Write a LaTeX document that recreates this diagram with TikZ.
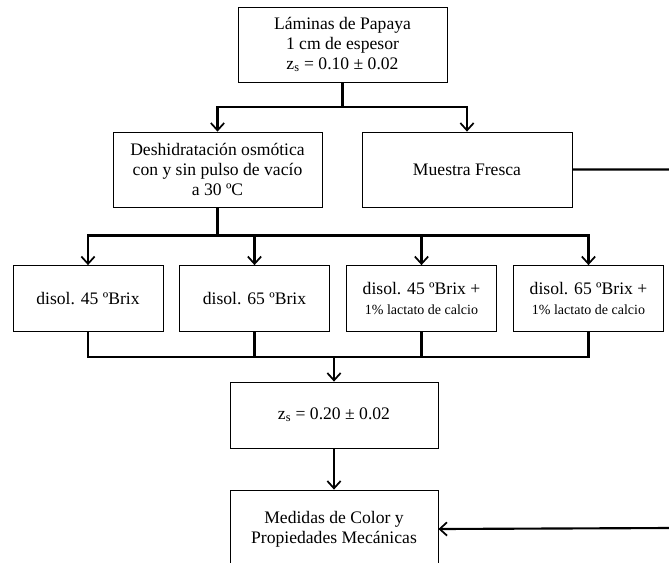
\documentclass[tikz,border=0pt]{standalone}
\usepackage{fontspec}
\setmainfont{Liberation Serif}
\usetikzlibrary{arrows.meta}

\begin{document}
\begin{tikzpicture}[x=0.75pt,y=-0.75pt]
\tikzset{caja/.style={draw, line width=0.6pt, inner sep=1pt, align=center, font=\fontsize{13.2}{15}\selectfont},
conector/.style={line width=1.7pt},
flecha/.style={line width=1.6pt, -{Straight Barb[length=5.5pt,width=10pt,line width=1.3pt]}}}
\useasboundingbox (0,0) rectangle (669,562);
\clip (0,0) rectangle (669,562);
\node[caja, minimum width=156.75pt, minimum height=56.25pt] (L1) at (342.5,44.5) {L\'aminas de Papaya\\1 cm de espesor\\z\textsubscript{s} = 0.10 ± 0.02};
\node[caja, minimum width=156.75pt, minimum height=56.25pt] (D1) at (217.5,169.5) {Deshidrataci\'on osm\'otica\\con y sin pulso de vac\'io\\a 30 ºC};
\node[caja, minimum width=157.5pt, minimum height=56.25pt] (M1) at (467,169.5) {Muestra Fresca};
\node[caja, minimum width=112.5pt, minimum height=49.5pt] (S1) at (88,298.5) {disol. 45 ºBrix};
\node[caja, minimum width=112.5pt, minimum height=49.5pt] (S2) at (254.5,298.5) {disol. 65 ºBrix};
\node[caja, minimum width=112.5pt, minimum height=49.5pt] (S3) at (421.5,298.5) {disol. 45 ºBrix +\\{\fontsize{10.5}{13}\selectfont 1\% lactato de calcio}};
\node[caja, minimum width=112.5pt, minimum height=49.5pt] (S4) at (588.5,298.5) {disol. 65 ºBrix +\\{\fontsize{10.5}{13}\selectfont 1\% lactato de calcio}};
\node[caja, minimum width=156pt, minimum height=49.5pt] (Z1) at (334,415) {z\textsubscript{s} = 0.20 ± 0.02};
\node[caja, minimum width=156pt, minimum height=58.5pt] (P1) at (334,529) {Medidas de Color y\\Propiedades Mec\'anicas};
\coordinate (J1) at (342.5,107);
\coordinate (J2) at (217.5,235.5);
\coordinate (J3) at (334,357);
\coordinate (R1) at (671.5,528);
\draw[conector] (L1.south) -- (J1);
\draw[flecha] (J1) -| (D1.north);
\draw[flecha] (J1) -| (M1.north);
\draw[conector] (D1.south) -- (J2);
\draw[flecha] (J2) -| (S1.north);
\draw[flecha] (J2) -| (S2.north);
\draw[flecha] (J2) -| (S3.north);
\draw[flecha] (J2) -| (S4.north);
\draw[conector] (S1.south) |- (J3);
\draw[conector] (S2.south) |- (J3);
\draw[conector] (S3.south) |- (J3);
\draw[conector] (S4.south) |- (J3);
\draw[flecha] (J3) -- (Z1.north);
\draw[flecha] (Z1.south) -- (P1.north);
\draw[flecha] (M1.east) -| (R1) -- (P1.east);
\end{tikzpicture}
\end{document}
